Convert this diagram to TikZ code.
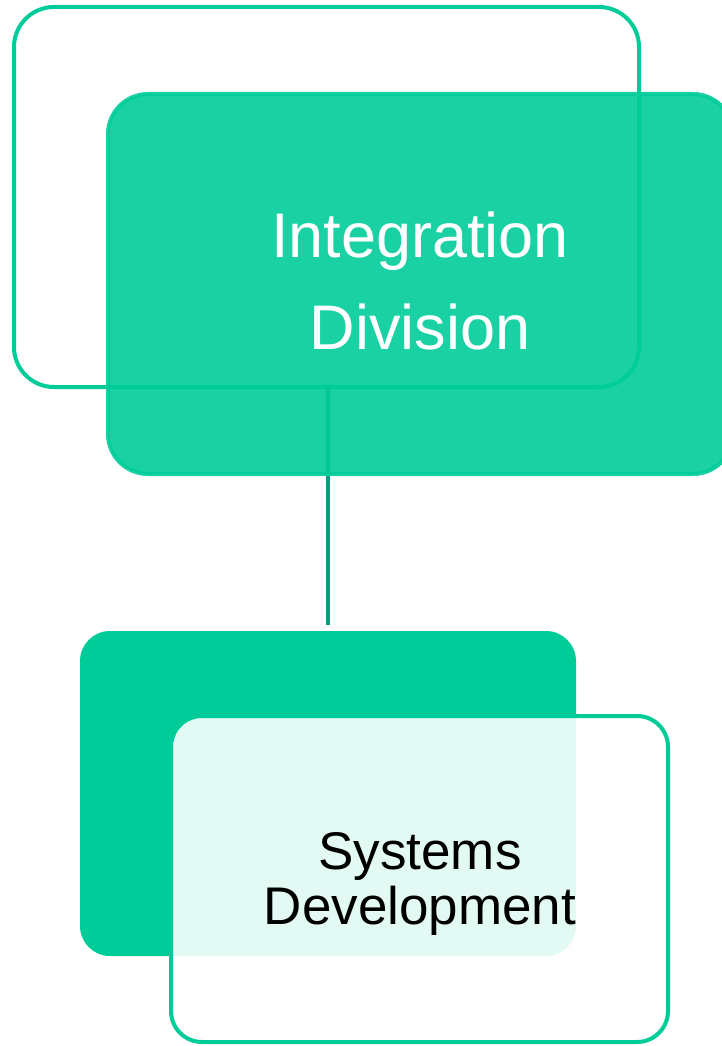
\documentclass[tikz,border=0pt]{standalone}
\usepackage{fontspec}
\setmainfont{Liberation Sans}
\definecolor{mint}{HTML}{00CC99}
\definecolor{teal}{HTML}{0A9E7E}
\begin{document}
\begin{tikzpicture}[x=1pt,y=-1pt,
  boxbase/.style={rectangle, inner sep=0pt, outer sep=0pt, line width=4pt},
  bigbox/.style={boxbase, minimum width=625pt, minimum height=380pt, rounded corners=40pt},
  smallbox/.style={boxbase, minimum width=497pt, minimum height=326pt, rounded corners=31pt},
  toplabel/.style={inner sep=0pt, align=center, text=white, font=\fontsize{63}{92}\selectfont},
  botlabel/.style={inner sep=0pt, align=center, text=black, font=\fontsize{53}{55}\selectfont},
  link/.style={draw=teal, line width=4.5pt}
]
\useasboundingbox (0,0) rectangle (722,1046);
% top group
\node[bigbox, draw=mint] (topframe) at (326.5,197) {};
\coordinate (cend) at (328,625);
\draw[link] (topframe.south -| cend) -- (cend);
\node[bigbox, draw=mint, fill=mint, opacity=0.9] (topfill) at (420.5,284) {};
\node[toplabel] (toptext) at (420,281) {Integration\\Division};
% bottom group
\node[smallbox, fill=mint, minimum width=496pt, minimum height=325pt, rounded corners=30pt] (botfill) at (328,793.5) {};
\node[smallbox, draw=mint, fill=white, fill opacity=0.89] (botframe) at (419.5,879) {};
\node[botlabel] (bottext) at (420,883.7) {Systems\\Development};
\end{tikzpicture}
\end{document}
